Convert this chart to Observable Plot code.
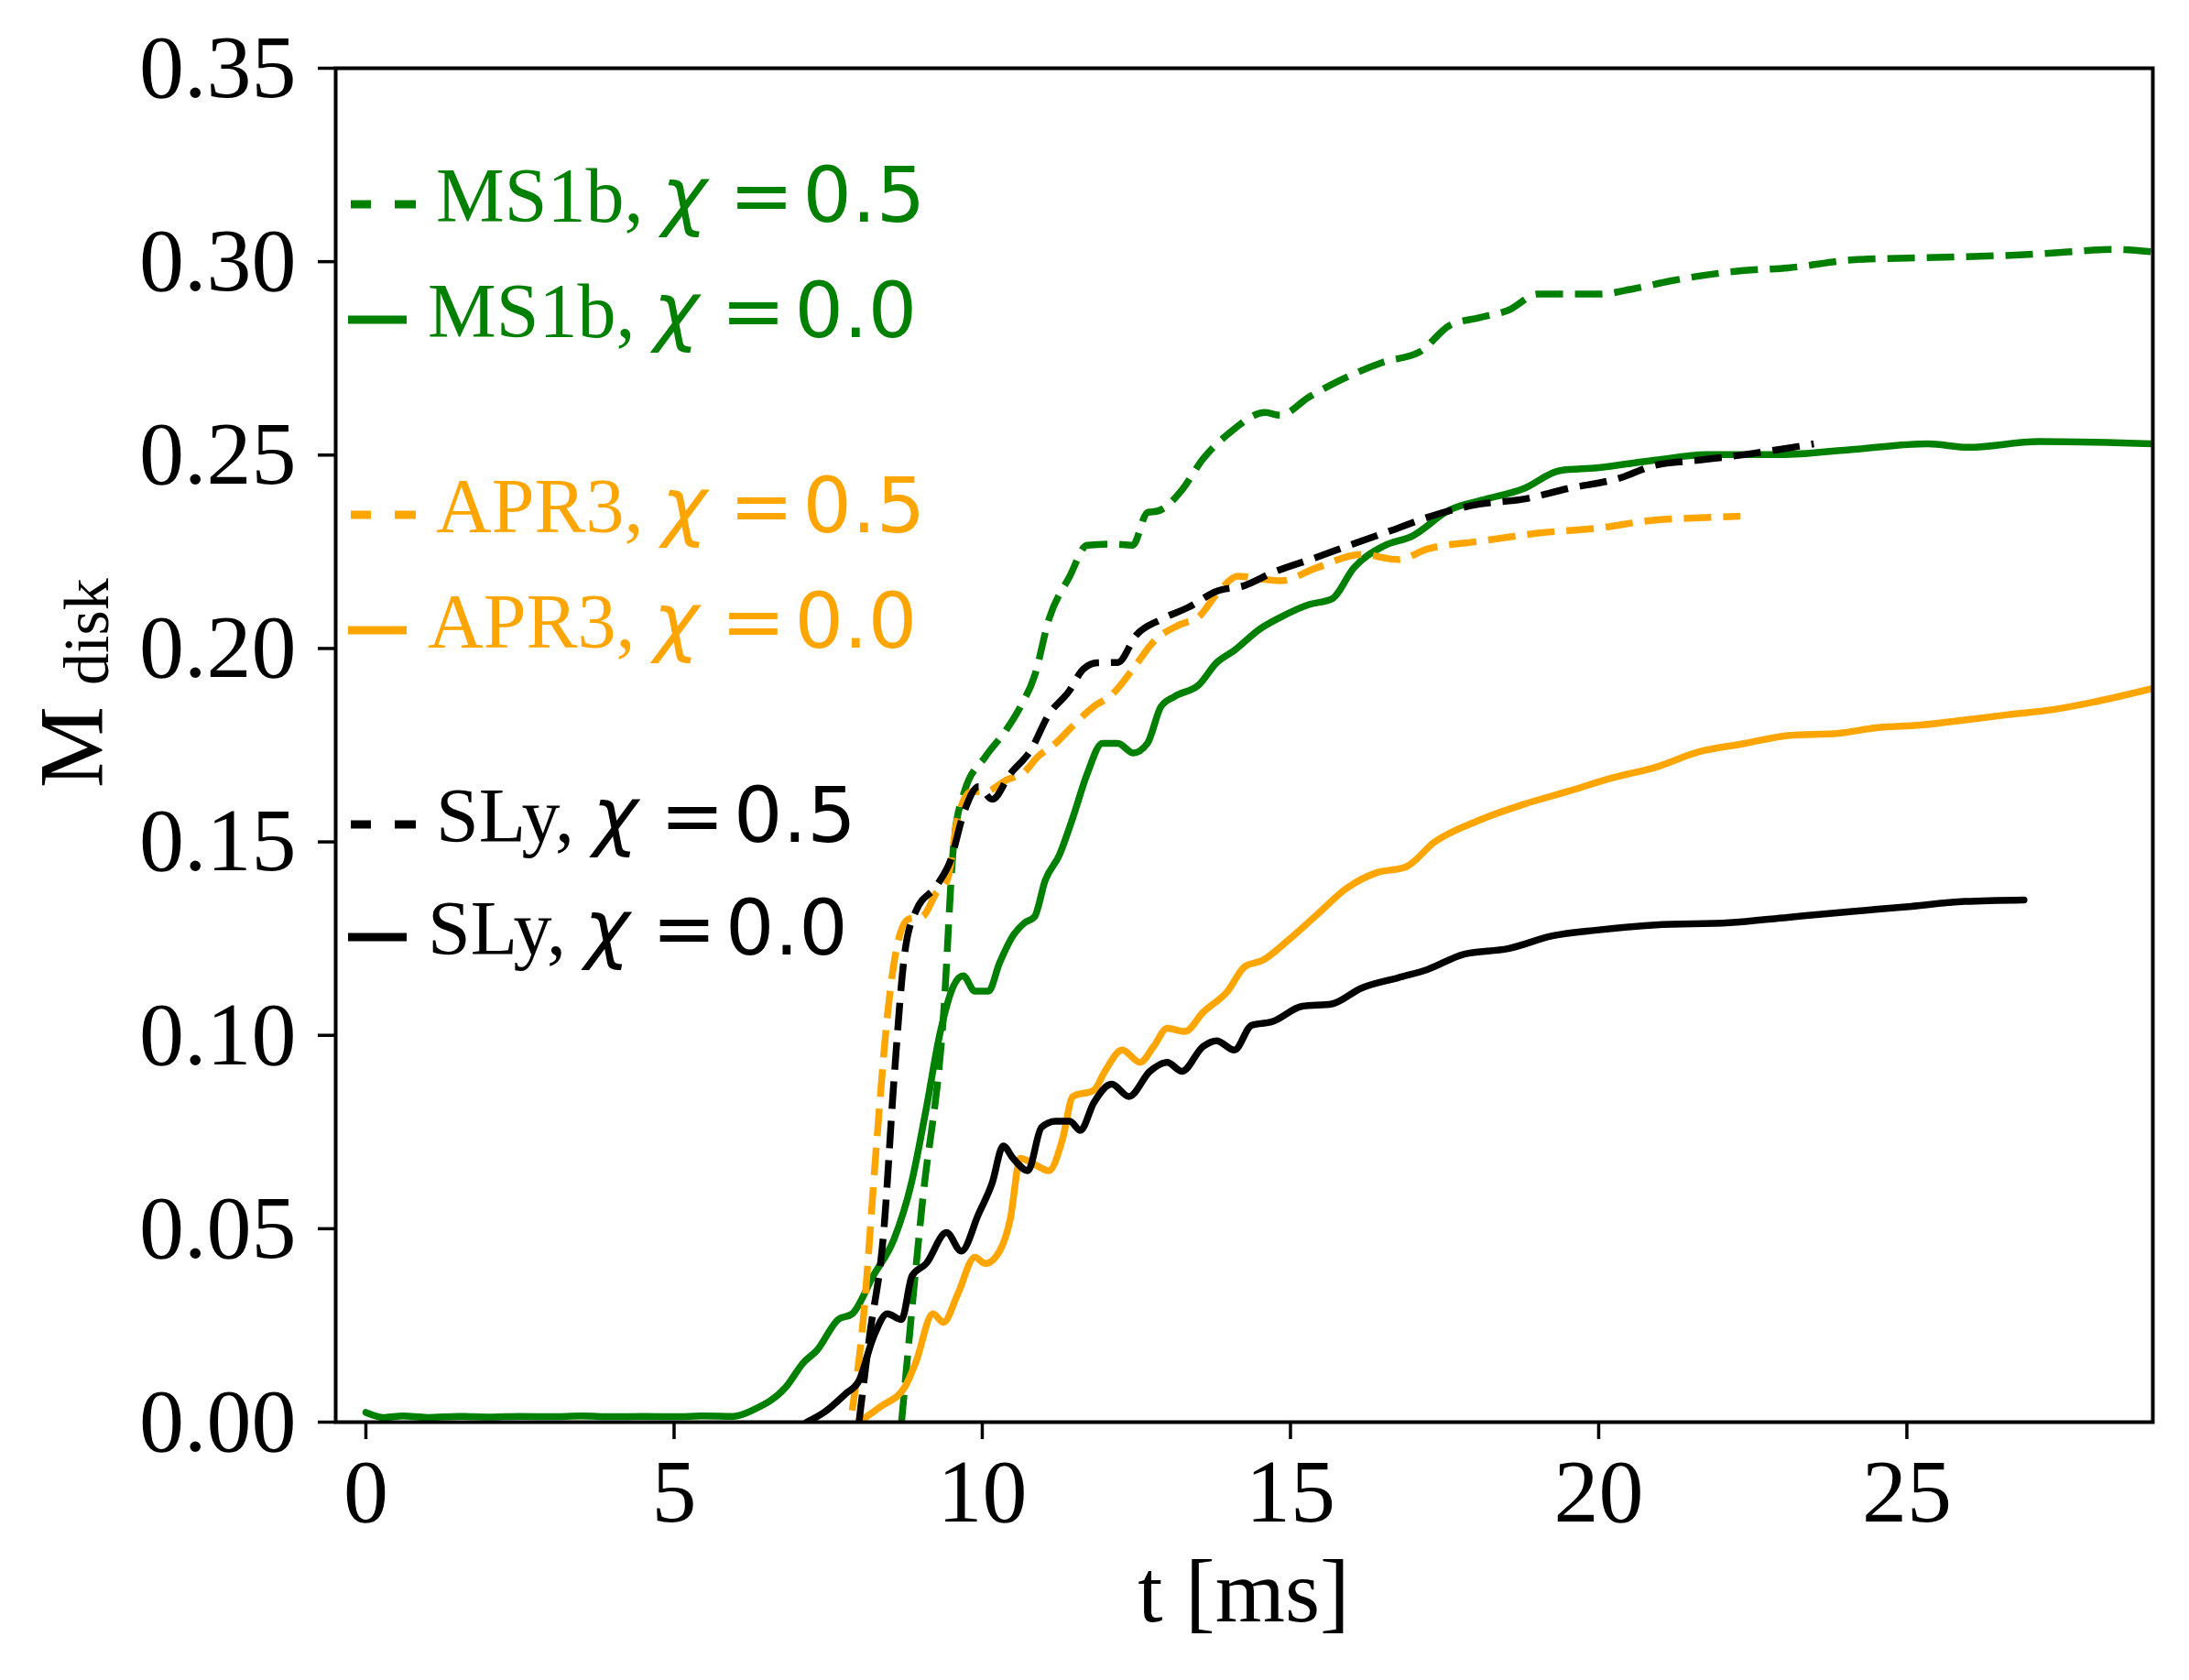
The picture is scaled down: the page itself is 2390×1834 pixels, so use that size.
<!DOCTYPE html>
<html>
<head>
<meta charset="utf-8">
<script src="https://cdn.jsdelivr.net/npm/d3@7"></script>
<script src="https://cdn.jsdelivr.net/npm/@observablehq/plot@0.6"></script>
<style>
  html, body { margin: 0; padding: 0; background: white; }
  #chart svg { display: block; }
</style>
</head>
<body>
<div id="chart"></div>
<script>
// ---- data (t in ms, M_disk) ----
const ms1b00_t = [0, 0.3, 0.6, 1, 1.5, 2, 2.5, 3, 3.5, 4, 4.5, 5, 5.5, 5.96, 6.3, 6.81, 7.1, 7.32, 7.66, 7.89, 8.23, 8.57, 8.85, 9.09, 9.31, 9.54, 9.69, 9.88, 10.1, 10.28, 10.5, 10.68, 10.85, 11.02, 11.25, 11.47, 11.7, 11.95, 12.2, 12.45, 12.68, 12.9, 13.12, 13.52, 13.8, 14.09, 14.5, 14.83, 15.31, 15.67, 16.03, 16.5, 16.98, 17.58, 18.17, 18.78, 19.37, 19.97, 20.92, 21.76, 22.95, 24.15, 25.34, 26.0, 27.13, 29.0];
const ms1b00_m = [0.0025, 0.0012, 0.0016, 0.0012, 0.0015, 0.0013, 0.0015, 0.0014, 0.0016, 0.0014, 0.0015, 0.0014, 0.0016, 0.0015, 0.0033, 0.009, 0.0154, 0.0186, 0.0265, 0.028, 0.0378, 0.0474, 0.0618, 0.081, 0.1002, 0.113, 0.1154, 0.1114, 0.1114, 0.1187, 0.1258, 0.129, 0.1307, 0.140, 0.1466, 0.1563, 0.1675, 0.1755, 0.1755, 0.173, 0.1755, 0.185, 0.1876, 0.1907, 0.1963, 0.1995, 0.205, 0.208, 0.2114, 0.2128, 0.2209, 0.2264, 0.2291, 0.2358, 0.2386, 0.2413, 0.246, 0.2467, 0.2487, 0.2501, 0.2501, 0.2515, 0.2529, 0.252, 0.2535, 0.2529];

const ms1b05_t = [8.69, 9.03, 9.37, 9.54, 9.71, 10.05, 10.39, 10.62, 10.85, 11.08, 11.42, 11.7, 12.1, 12.44, 12.68, 12.84, 13.24, 13.58, 14.0, 14.59, 14.83, 15.31, 15.79, 16.5, 17.1, 17.58, 18.06, 18.54, 19.01, 19.73, 20.0, 20.57, 21.16, 22.36, 23.07, 24.15, 25.46, 26.9, 27.61, 28.32, 29.0];
const ms1b05_m = [0, 0.057, 0.105, 0.150, 0.163, 0.172, 0.179, 0.185, 0.193, 0.2075, 0.2187, 0.2267, 0.227, 0.2267, 0.2352, 0.2355, 0.241, 0.249, 0.2556, 0.261, 0.2603, 0.2651, 0.2692, 0.274, 0.2767, 0.2835, 0.2855, 0.2875, 0.2916, 0.2916, 0.2916, 0.293, 0.295, 0.2977, 0.2984, 0.3005, 0.3011, 0.3018, 0.3025, 0.3032, 0.3025];

const apr305_t = [7.89, 8.06, 8.29, 8.46, 8.63, 8.80, 9.03, 9.26, 9.43, 9.6, 9.82, 10.05, 10.39, 10.68, 10.9, 11.19, 11.47, 11.81, 12.1, 12.44, 12.78, 13.18, 13.52, 13.8, 14.15, 14.5, 14.83, 15.43, 16.15, 16.75, 17.22, 18.06, 19.01, 19.97, 20.92, 21.63, 22.3];
const apr305_m = [0.003, 0.025, 0.073, 0.105, 0.124, 0.130, 0.1307, 0.137, 0.140, 0.156, 0.163, 0.163, 0.166, 0.168, 0.172, 0.1755, 0.180, 0.185, 0.188, 0.1946, 0.2018, 0.206, 0.2083, 0.214, 0.2187, 0.218, 0.2175, 0.2209, 0.2243, 0.223, 0.2257, 0.2277, 0.2298, 0.2311, 0.2332, 0.2338, 0.2342];

const apr300_t = [8.0, 8.35, 8.74, 8.92, 9.2, 9.37, 9.6, 9.88, 10.05, 10.28, 10.45, 10.62, 10.85, 11.08, 11.3, 11.47, 11.81, 11.99, 12.27, 12.56, 12.78, 13.0, 13.29, 13.58, 13.98, 14.26, 14.55, 14.95, 15.43, 15.91, 16.39, 16.87, 17.34, 18.06, 18.78, 19.49, 20.21, 20.92, 21.63, 22.36, 23.07, 23.9, 24.5, 25.22, 25.94, 26.65, 27.37, 28.08, 29.0];
const apr300_m = [0, 0.004, 0.009, 0.0154, 0.028, 0.0258, 0.033, 0.0426, 0.041, 0.0442, 0.0522, 0.0682, 0.0666, 0.065, 0.073, 0.0842, 0.0858, 0.0907, 0.0962, 0.093, 0.0971, 0.1018, 0.101, 0.1059, 0.1114, 0.1178, 0.1194, 0.1244, 0.1312, 0.138, 0.142, 0.1435, 0.150, 0.1556, 0.1597, 0.163, 0.1665, 0.1693, 0.1733, 0.1754, 0.1775, 0.1781, 0.1795, 0.1802, 0.1815, 0.1829, 0.1842, 0.1863, 0.1897];

const sly05_t = [8.0, 8.17, 8.4, 8.57, 8.74, 8.92, 9.26, 9.48, 9.71, 9.94, 10.16, 10.45, 10.79, 11.07, 11.41, 11.64, 11.87, 12.2, 12.5, 12.9, 13.35, 13.8, 14.26, 14.71, 15.43, 16.03, 16.62, 17.34, 18.06, 18.78, 19.49, 20.33, 20.92, 21.63, 22.36, 22.95, 23.49];
const sly05_m = [0, 0.022, 0.049, 0.089, 0.121, 0.132, 0.1387, 0.145, 0.158, 0.1643, 0.161, 0.1675, 0.1738, 0.1827, 0.189, 0.1947, 0.1963, 0.1964, 0.2035, 0.2075, 0.2107, 0.2148, 0.2163, 0.2196, 0.2236, 0.2271, 0.2304, 0.2345, 0.2373, 0.2386, 0.2413, 0.244, 0.2474, 0.2487, 0.2501, 0.2515, 0.2529];

const sly00_t = [7.15, 7.44, 7.78, 8.0, 8.23, 8.46, 8.69, 8.86, 9.09, 9.42, 9.66, 9.94, 10.16, 10.34, 10.5, 10.74, 10.96, 11.19, 11.42, 11.59, 11.81, 12.1, 12.38, 12.72, 13.0, 13.24, 13.58, 13.8, 14.09, 14.37, 14.7, 15.19, 15.67, 16.15, 16.75, 17.22, 17.82, 18.53, 19.25, 19.97, 20.92, 22.12, 23.07, 24.03, 24.98, 25.94, 26.9];
const sly00_m = [0, 0.0026, 0.0073, 0.0107, 0.0218, 0.028, 0.0265, 0.0378, 0.041, 0.049, 0.0442, 0.0538, 0.0618, 0.0714, 0.0682, 0.065, 0.0762, 0.0778, 0.0778, 0.0754, 0.0826, 0.0874, 0.0842, 0.0907, 0.093, 0.0907, 0.0971, 0.0986, 0.0962, 0.1026, 0.1035, 0.1075, 0.1081, 0.1122, 0.1149, 0.117, 0.121, 0.1224, 0.1257, 0.1272, 0.1285, 0.1291, 0.1305, 0.1319, 0.1332, 0.1346, 0.135];

const xTicks = [0, 5, 10, 15, 20, 25];
const yTicks = [0, 0.05, 0.10, 0.15, 0.20, 0.25, 0.30, 0.35];

const legendEntries = [
  {name: "MS1b,", chi: "0.5", color: "green", dashed: true},
  {name: "MS1b,", chi: "0.0", color: "green", dashed: false},
  {name: "APR3,", chi: "0.5", color: "orange", dashed: true},
  {name: "APR3,", chi: "0.0", color: "orange", dashed: false},
  {name: "SLy,", chi: "0.5", color: "black", dashed: true},
  {name: "SLy,", chi: "0.0", color: "black", dashed: false}
];

// ---- build ----
const rows = (ts, ms) => ts.map((t, i) => ({t, m: ms[i]}));
const LW = 7.5;
const DASH = "30,13";
const lineOpts = (color, dashed) => ({
  x: "t", y: "m", stroke: color, strokeWidth: LW,
  strokeDasharray: dashed ? DASH : null,
  strokeLinejoin: "round", strokeLinecap: dashed ? "butt" : "round",
  curve: "monotone-x",
  clip: true
});

const W = 2390, H = 1834;
const mL = 366, mR = 40, mT = 74, mB = 282;

const plot = Plot.plot({
  width: W, height: H,
  marginLeft: mL, marginRight: mR, marginTop: mT, marginBottom: mB,
  x: {domain: [-0.49, 28.99]},
  y: {domain: [0, 0.35]},
  style: {fontFamily: "'Liberation Serif', 'Times New Roman', serif", fontSize: "98px", background: "white", color: "black"},
  marks: [
    Plot.line(rows(ms1b05_t, ms1b05_m), lineOpts("green", true)),
    Plot.line(rows(ms1b00_t, ms1b00_m), lineOpts("green", false)),
    Plot.line(rows(apr305_t, apr305_m), lineOpts("orange", true)),
    Plot.line(rows(apr300_t, apr300_m), lineOpts("orange", false)),
    Plot.line(rows(sly05_t, sly05_m), lineOpts("black", true)),
    Plot.line(rows(sly00_t, sly00_m), lineOpts("black", false)),
    Plot.axisX({ticks: xTicks, tickSize: 19, tickPadding: 20, tickFormat: d => String(d), label: null, strokeWidth: 3.5, fontSize: 98}),
    Plot.axisY({ticks: yTicks, tickSize: 19, tickPadding: 24, tickFormat: d3.format(".2f"), label: null, strokeWidth: 3.5, fontSize: 98}),
    Plot.frame({stroke: "black", strokeWidth: 4})
  ]
});

document.getElementById("chart").appendChild(plot);

// ---- axis labels & legend drawn into the same SVG ----
const svg = d3.select(plot);
const serif = "'Liberation Serif', 'Times New Roman', serif";
const sans = "'DejaVu Sans', sans-serif";

// x label
svg.append("text")
  .attr("x", (mL + (W - mR)) / 2).attr("y", 1770)
  .attr("text-anchor", "middle")
  .style("font-family", serif).style("font-size", "98px").attr("fill", "black")
  .text("t [ms]");

// y label  M_disk
svg.append("text")
  .attr("transform", "translate(111,860) rotate(-90)")
  .attr("text-anchor", "start")
  .style("font-family", serif).style("font-size", "100px").attr("fill", "black")
  .text("M");
svg.append("text")
  .attr("transform", "translate(118,748) rotate(-90)")
  .attr("text-anchor", "start")
  .style("font-family", serif).style("font-size", "70px").attr("fill", "black")
  .text("disk");

// legend
const rowY = [223, 349, 562, 688, 900, 1023];
const LFS = 84;
const lg = svg.append("g").attr("text-anchor", "start");
legendEntries.forEach((e, i) => {
  const y = rowY[i];
  if (e.dashed) {
    lg.append("line").attr("x1", 383).attr("x2", 405).attr("y1", y).attr("y2", y)
      .attr("stroke", e.color).attr("stroke-width", 9);
    lg.append("line").attr("x1", 431).attr("x2", 454).attr("y1", y).attr("y2", y)
      .attr("stroke", e.color).attr("stroke-width", 9);
  } else {
    lg.append("line").attr("x1", 380).attr("x2", 444).attr("y1", y).attr("y2", y)
      .attr("stroke", e.color).attr("stroke-width", 9);
  }
  const t = lg.append("text")
    .attr("x", e.dashed ? 476 : 467).attr("y", y + 19)
    .attr("text-anchor", "start")
    .attr("fill", e.color)
    .style("font-size", LFS + "px");
  t.append("tspan").style("font-family", serif).text(e.name);
  t.append("tspan").attr("dx", 20).style("font-family", sans).style("font-style", "italic").text("χ");
  t.append("tspan").attr("dx", 24).style("font-family", sans).text("=");
  t.append("tspan").attr("dx", 10).style("font-family", sans).text(e.chi);
});
</script>
</body>
</html>
